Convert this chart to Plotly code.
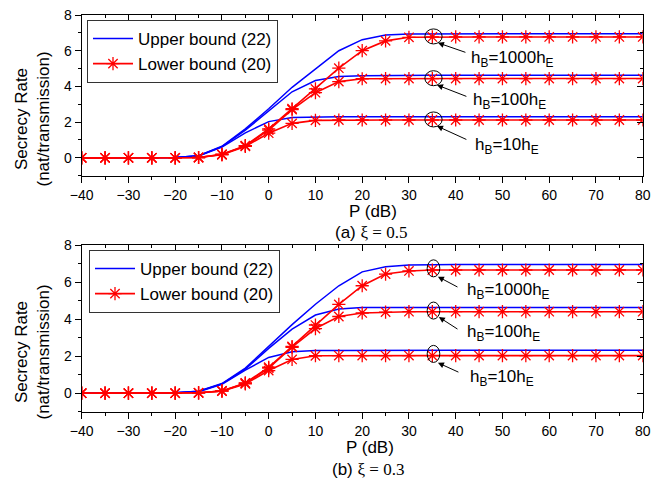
import plotly.graph_objects as go

# ---------------- data ----------------
P = [-40, -35, -30, -25, -20, -15, -10, -5, 0, 5, 10, 15, 20, 25, 30, 35, 40, 45, 50, 55, 60, 65, 70, 75, 80]

# (a) xi = 0.5
upper_1000_a = [0, 0, 0, 0, 0.02, 0.12, 0.65, 1.62, 2.75, 3.95, 5.0, 6.0, 6.62, 6.88, 6.94, 6.95, 6.95, 6.95, 6.95, 6.95, 6.95, 6.95, 6.95, 6.95, 6.95]
upper_100_a = [0, 0, 0, 0, 0.02, 0.12, 0.63, 1.55, 2.62, 3.7, 4.33, 4.55, 4.6, 4.62, 4.63, 4.63, 4.63, 4.63, 4.63, 4.63, 4.63, 4.63, 4.63, 4.63, 4.63]
upper_10_a = [0, 0, 0, 0, 0.02, 0.1, 0.6, 1.4, 2.03, 2.26, 2.29, 2.3, 2.3, 2.3, 2.3, 2.3, 2.3, 2.3, 2.3, 2.3, 2.3, 2.3, 2.3, 2.3, 2.3]
lower_1000_a = [0, 0, 0, 0, 0, 0.02, 0.2, 0.68, 1.62, 2.75, 3.86, 5.02, 6.0, 6.55, 6.75, 6.77, 6.77, 6.77, 6.77, 6.77, 6.77, 6.77, 6.77, 6.77, 6.77]
lower_100_a = [0, 0, 0, 0, 0, 0.02, 0.19, 0.67, 1.55, 2.7, 3.65, 4.27, 4.43, 4.44, 4.44, 4.44, 4.44, 4.44, 4.44, 4.44, 4.44, 4.44, 4.44, 4.44, 4.44]
lower_10_a = [0, 0, 0, 0, 0, 0.02, 0.17, 0.64, 1.38, 1.93, 2.1, 2.12, 2.12, 2.12, 2.12, 2.12, 2.12, 2.12, 2.12, 2.12, 2.12, 2.12, 2.12, 2.12, 2.12]

# (b) xi = 0.3
upper_1000_b = [0, 0, 0, 0, 0.02, 0.1, 0.52, 1.35, 2.55, 3.7, 4.8, 5.8, 6.55, 6.83, 6.92, 6.95, 6.95, 6.95, 6.95, 6.95, 6.95, 6.95, 6.95, 6.95, 6.95]
upper_100_b = [0, 0, 0, 0, 0.02, 0.1, 0.5, 1.3, 2.42, 3.46, 4.22, 4.55, 4.62, 4.63, 4.63, 4.63, 4.63, 4.63, 4.63, 4.63, 4.63, 4.63, 4.63, 4.63, 4.63]
upper_10_b = [0, 0, 0, 0, 0.02, 0.08, 0.48, 1.24, 1.93, 2.24, 2.3, 2.31, 2.32, 2.32, 2.32, 2.32, 2.32, 2.32, 2.32, 2.32, 2.32, 2.32, 2.32, 2.32, 2.32]
lower_1000_b = [0, 0, 0, 0, 0, 0.02, 0.12, 0.55, 1.4, 2.52, 3.68, 4.79, 5.8, 6.43, 6.6, 6.65, 6.65, 6.65, 6.65, 6.65, 6.65, 6.65, 6.65, 6.65, 6.65]
lower_100_b = [0, 0, 0, 0, 0, 0.02, 0.12, 0.54, 1.35, 2.48, 3.49, 4.14, 4.33, 4.38, 4.4, 4.4, 4.4, 4.4, 4.4, 4.4, 4.4, 4.4, 4.4, 4.4, 4.4]
lower_10_b = [0, 0, 0, 0, 0, 0.02, 0.11, 0.5, 1.22, 1.82, 2.02, 2.03, 2.03, 2.03, 2.03, 2.03, 2.03, 2.03, 2.03, 2.03, 2.03, 2.03, 2.03, 2.03, 2.03]

legend_names = ["Upper bound (22)", "Lower bound (20)"]
curve_labels = ["h<sub>B</sub>=1000h<sub>E</sub>", "h<sub>B</sub>=100h<sub>E</sub>", "h<sub>B</sub>=10h<sub>E</sub>"]
captions = ["(a) <span style=\"font-family:'Liberation Serif', 'Times New Roman', serif\">\u03be = 0.5</span>",
            "(b) <span style=\"font-family:'Liberation Serif', 'Times New Roman', serif\">\u03be = 0.3</span>"]

FONT = "Arial, 'Liberation Sans', sans-serif"
BLUE = "#0000FF"
RED = "#FF0000"
W, H = 652, 480

fig = go.Figure()

panels = [
    dict(upper=[upper_1000_a, upper_100_a, upper_10_a], lower=[lower_1000_a, lower_100_a, lower_10_a],
         xa="x", ya="y", legend="legend"),
    dict(upper=[upper_1000_b, upper_100_b, upper_10_b], lower=[lower_1000_b, lower_100_b, lower_10_b],
         xa="x2", ya="y2", legend="legend2"),
]

for p in panels:
    for i, ys in enumerate(p["upper"]):
        fig.add_trace(go.Scatter(x=P, y=ys, mode="lines", xaxis=p["xa"], yaxis=p["ya"],
                                 line=dict(color=BLUE, width=1.5), name=legend_names[0],
                                 legend=p["legend"], showlegend=(i == 0), hoverinfo="skip"))
    for i, ys in enumerate(p["lower"]):
        fig.add_trace(go.Scatter(x=P, y=ys, mode="lines+markers", xaxis=p["xa"], yaxis=p["ya"],
                                 line=dict(color=RED, width=1.6), name=legend_names[1],
                                 marker=dict(symbol="asterisk-open", size=11, color=RED,
                                             line=dict(color=RED, width=1.3)),
                                 legend=p["legend"], showlegend=(i == 0), hoverinfo="skip"))

xdom = [81.7 / W, 642.7 / W]
ydom_a = [1 - 175.7 / H, 1 - 15 / H]
ydom_b = [1 - 411.7 / H, 1 - 245 / H]

def xaxis_cfg(anchor):
    return dict(domain=xdom, range=[-40, 80], anchor=anchor, dtick=10, tick0=0,
                ticks="outside", ticklen=6, tickwidth=1, tickcolor="black",
                minor=dict(dtick=5, ticks="outside", ticklen=3, tickcolor="black", tickwidth=1),
                showline=True, linecolor="black", linewidth=1, mirror=True,
                showgrid=False, zeroline=False,
                tickfont=dict(family=FONT, size=14, color="black"))

def yaxis_cfg(anchor, dom):
    return dict(domain=dom, range=[-1, 8], anchor=anchor, tickvals=[0, 2, 4, 6, 8],
                ticks="outside", ticklen=6, tickwidth=1, tickcolor="black",
                minor=dict(tickvals=[-1, 1, 3, 5, 7], ticks="outside", ticklen=3, tickcolor="black", tickwidth=1),
                showline=True, linecolor="black", linewidth=1, mirror=True,
                showgrid=False, zeroline=False,
                tickfont=dict(family=FONT, size=14, color="black"))

def xtop_cfg(overlay, anchor):
    return dict(overlaying=overlay, anchor=anchor, side="top", range=[-40, 80], dtick=10, tick0=0,
                ticks="inside", ticklen=6, tickcolor="black", showticklabels=False,
                minor=dict(dtick=5, ticks="inside", ticklen=3, tickcolor="black"),
                showline=False, showgrid=False, zeroline=False)

def yright_cfg(overlay, anchor):
    return dict(overlaying=overlay, anchor=anchor, side="right", range=[-1, 8],
                tickvals=[0, 2, 4, 6, 8], ticks="inside", ticklen=6, tickcolor="black", showticklabels=False,
                minor=dict(tickvals=[-1, 1, 3, 5, 7], ticks="inside", ticklen=3, tickcolor="black"),
                showline=False, showgrid=False, zeroline=False)

# invisible traces to activate the mirror-tick overlay axes
for xa, ya in [("x3", "y"), ("x4", "y2"), ("x", "y3"), ("x2", "y4")]:
    fig.add_trace(go.Scatter(x=[None], y=[None], xaxis=xa, yaxis=ya, showlegend=False, hoverinfo="skip"))

legend_common = dict(bgcolor="white", bordercolor="#333333", borderwidth=1,
                     font=dict(family=FONT, size=17, color="black"),
                     xanchor="left", yanchor="top", tracegroupgap=0, itemwidth=40)

fig.update_layout(
    width=W, height=H,
    margin=dict(l=0, r=0, t=0, b=0, autoexpand=False),
    paper_bgcolor="white", plot_bgcolor="white",
    xaxis=xaxis_cfg("y"), yaxis=yaxis_cfg("x", ydom_a),
    xaxis2=xaxis_cfg("y2"), yaxis2=yaxis_cfg("x2", ydom_b),
    xaxis3=xtop_cfg("x", "y"), xaxis4=xtop_cfg("x2", "y2"),
    yaxis3=yright_cfg("y", "x"), yaxis4=yright_cfg("y2", "x2"),
    legend=dict(x=87 / W, y=1 - 20 / H, **legend_common),
    legend2=dict(x=89 / W, y=1 - 250 / H, **legend_common),
    showlegend=True,
)

annotations = []
shapes = []

marks = [
    dict(xr="x", yr="y",
         ell=[(33.4, 37.1, 6.38, 7.22), (33.4, 37.1, 4.04, 4.88), (33.4, 37.1, 1.73, 2.57)],
         arrows=[((36.2, 6.44), (42.4, 5.88)), ((36.0, 4.08), (42.6, 3.41)), ((36.0, 1.78), (42.6, 0.99))],
         texts=[(42.8, 5.54), (43.3, 3.21), (43.7, 0.66)]),
    dict(xr="x2", yr="y2",
         ell=[(33.9, 36.6, 6.28, 7.2), (33.9, 36.6, 4.0, 4.92), (33.9, 36.6, 1.66, 2.58)],
         arrows=[((36.2, 6.29), (40.7, 5.69)), ((36.4, 4.11), (40.7, 3.41)), ((36.2, 1.64), (40.9, 1.10))],
         texts=[(42.0, 5.51), (42.0, 3.24), (42.6, 0.84)]),
]

for m in marks:
    for (x0, x1, y0, y1) in m["ell"]:
        shapes.append(dict(type="circle", xref=m["xr"], yref=m["yr"], x0=x0, x1=x1, y0=y0, y1=y1,
                           line=dict(color="black", width=1)))
    for (tip, tail) in m["arrows"]:
        annotations.append(dict(xref=m["xr"], yref=m["yr"], axref=m["xr"], ayref=m["yr"],
                                x=tip[0], y=tip[1], ax=tail[0], ay=tail[1], text="",
                                showarrow=True, arrowhead=2, arrowsize=1.2, arrowwidth=1, arrowcolor="black"))
    for lbl, (tx, ty) in zip(curve_labels, m["texts"]):
        annotations.append(dict(xref=m["xr"], yref=m["yr"], x=tx, y=ty, text=lbl, showarrow=False,
                                xanchor="left", yanchor="middle",
                                font=dict(family=FONT, size=17, color="black")))

for (px, py) in [(32, 119.5), (32, 352.5)]:
    annotations.append(dict(xref="paper", yref="paper", x=px / W, y=1 - py / H,
                            text="Secrecy Rate<br>(nat/transmission)", textangle=-90, showarrow=False,
                            xanchor="center", yanchor="middle",
                            font=dict(family=FONT, size=17, color="black")))
for (px, py) in [(373, 211), (370, 447)]:
    annotations.append(dict(xref="paper", yref="paper", x=px / W, y=1 - py / H, text="P (dB)",
                            showarrow=False, xanchor="center", yanchor="middle",
                            font=dict(family=FONT, size=17, color="black")))
for cap, (px, py) in zip(captions, [(371, 232), (367.5, 469)]):
    annotations.append(dict(xref="paper", yref="paper", x=px / W, y=1 - py / H, text=cap,
                            showarrow=False, xanchor="center", yanchor="middle",
                            font=dict(family=FONT, size=17, color="black")))

fig.update_layout(annotations=annotations, shapes=shapes)

fig.write_html("out.html")
